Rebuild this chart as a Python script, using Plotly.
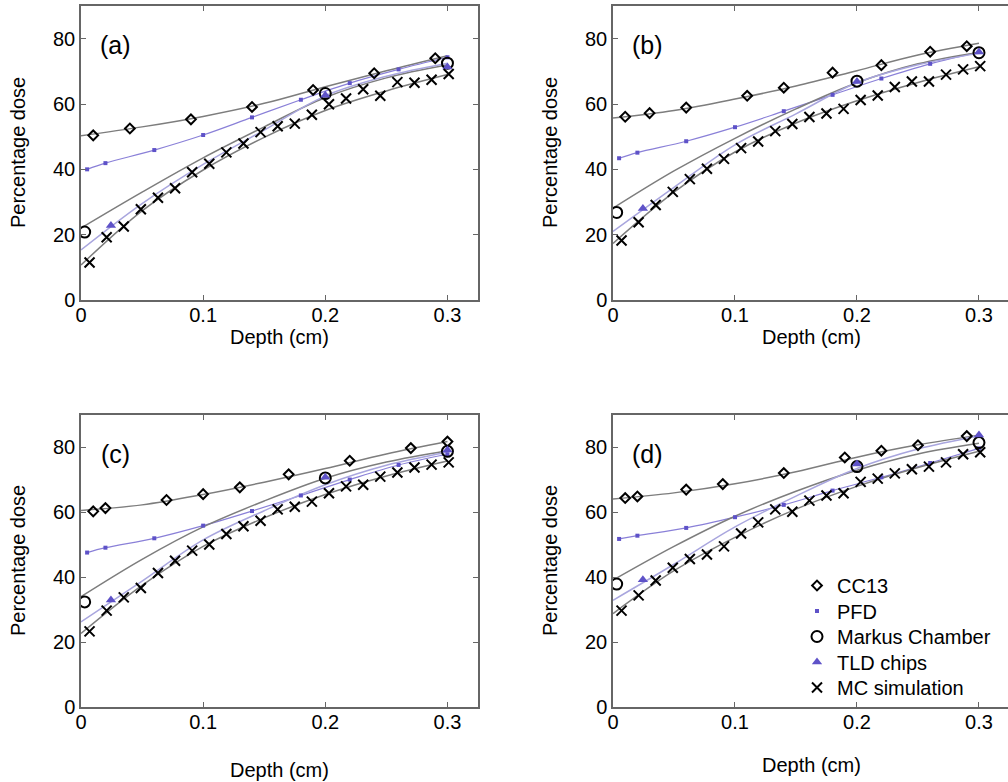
import plotly.graph_objects as go

# ---------------- data ----------------
panels = ["a", "b", "c", "d"]

cc13_x = {
    "a": [0.01, 0.04, 0.09, 0.14, 0.19, 0.24, 0.29],
    "b": [0.01, 0.03, 0.06, 0.11, 0.14, 0.18, 0.22, 0.26, 0.29],
    "c": [0.01, 0.02, 0.07, 0.10, 0.13, 0.17, 0.22, 0.27, 0.30],
    "d": [0.01, 0.02, 0.06, 0.09, 0.14, 0.19, 0.22, 0.25, 0.29],
}
cc13_y = {
    "a": [50.4, 52.5, 55.3, 59.1, 64.3, 69.4, 74.0],
    "b": [56.1, 57.2, 58.9, 62.5, 65.0, 69.6, 71.9, 76.0, 77.7],
    "c": [60.3, 61.3, 63.8, 65.6, 67.7, 71.7, 75.9, 79.8, 81.8],
    "d": [64.4, 64.9, 67.0, 68.7, 72.1, 76.9, 79.0, 80.7, 83.5],
}

pfd_x = [0.005, 0.02, 0.06, 0.10, 0.14, 0.18, 0.22, 0.26, 0.30]
pfd_y = {
    "a": [40.0, 41.9, 45.9, 50.5, 55.9, 61.3, 66.4, 70.6, 74.3],
    "b": [43.4, 45.1, 48.6, 52.9, 57.8, 62.8, 67.8, 72.3, 75.9],
    "c": [47.6, 49.1, 52.0, 55.9, 60.4, 65.2, 70.1, 74.6, 77.9],
    "d": [51.8, 52.8, 55.2, 58.5, 62.3, 66.7, 70.8, 75.2, 79.7],
}

markus_x = [0.003, 0.20, 0.30]
markus_y = {
    "a": [20.8, 63.2, 72.5],
    "b": [26.8, 67.0, 75.7],
    "c": [32.4, 70.6, 78.8],
    "d": [37.9, 74.1, 81.5],
}

tld_x = [0.0245, 0.20, 0.30]
tld_y = {
    "a": [22.8, 62.7, 71.3],
    "b": [28.0, 66.9, 75.9],
    "c": [33.0, 70.8, 79.2],
    "d": [39.2, 74.9, 83.8],
}

mc_x = [0.007, 0.021, 0.035, 0.049, 0.063, 0.077, 0.091, 0.105, 0.119, 0.133, 0.147,
        0.161, 0.175, 0.189, 0.203, 0.217, 0.231, 0.245, 0.259, 0.273, 0.287, 0.301]
mc_y = {
    "a": [11.5, 19.2, 22.5, 27.8, 31.3, 34.2, 39.1, 41.7, 45.2, 47.9, 51.4,
          53.2, 54.0, 56.7, 59.9, 61.7, 64.5, 62.5, 66.7, 66.5, 67.4, 69.2],
    "b": [18.2, 23.8, 29.1, 33.1, 37.0, 40.2, 43.2, 46.5, 48.5, 51.7, 53.9,
          56.0, 57.1, 58.5, 61.2, 62.6, 65.2, 66.9, 66.9, 69.0, 70.6, 71.6],
    "c": [23.3, 29.7, 33.8, 36.7, 41.3, 45.1, 48.2, 50.1, 53.3, 55.7, 57.4,
          60.9, 61.7, 63.3, 65.9, 68.0, 68.5, 71.0, 72.3, 73.8, 74.7, 75.4],
    "d": [29.7, 34.4, 39.0, 42.9, 45.6, 47.0, 49.5, 53.5, 56.9, 60.9, 60.2,
          63.6, 65.2, 65.9, 69.4, 70.4, 72.0, 73.3, 74.1, 75.4, 77.9, 78.5],
}

# fitted curves
fit_x = [0.0, 0.05, 0.10, 0.15, 0.20, 0.25, 0.30]
cc13_fit = {
    "a": [50.3, 53.0, 56.2, 60.2, 65.3, 70.2, 74.8],
    "b": [55.7, 58.0, 61.5, 65.5, 70.2, 75.0, 78.6],
    "c": [60.6, 62.3, 65.5, 69.3, 73.5, 78.0, 81.8],
    "d": [64.1, 66.0, 68.8, 72.5, 77.0, 80.8, 83.8],
}
markus_fit = {
    "a": [22.0, 33.0, 43.5, 53.0, 62.0, 68.0, 72.0],
    "b": [28.1, 39.5, 49.5, 58.5, 66.5, 72.3, 75.8],
    "c": [34.0, 45.5, 55.5, 63.5, 70.5, 75.5, 79.0],
    "d": [39.1, 49.5, 58.8, 66.5, 73.0, 78.0, 81.3],
}
tld_fit = {
    "a": [15.3, 29.5, 41.5, 52.0, 62.5, 68.5, 72.5],
    "b": [21.0, 34.5, 47.5, 57.0, 66.5, 72.0, 75.5],
    "c": [26.2, 38.8, 51.5, 60.5, 68.5, 74.5, 78.5],
    "d": [32.9, 44.0, 55.5, 65.0, 73.5, 79.5, 83.5],
}
mc_fit = {
    "a": [10.7, 27.3, 39.8, 49.8, 58.0, 64.0, 69.0],
    "b": [17.3, 33.0, 45.3, 54.2, 61.0, 66.6, 71.4],
    "c": [22.7, 37.5, 49.5, 58.3, 65.5, 71.2, 75.8],
    "d": [28.8, 42.0, 52.3, 61.0, 68.0, 73.8, 78.8],
}

x_ticks = [0, 0.1, 0.2, 0.3]
x_tick_text = ["0", "0.1", "0.2", "0.3"]
y_ticks = [0, 20, 40, 60, 80]
y_tick_text = ["0", "20", "40", "60", "80"]
panel_labels = ["(a)", "(b)", "(c)", "(d)"]
series_names = ["CC13", "PFD", "Markus Chamber", "TLD chips", "MC simulation"]

# ---------------- layout geometry ----------------
W, H = 1008, 782
FONT = "Liberation Sans, Arial, sans-serif"
BLUE = "#5e52c8"
GRAY = "#7d7d7d"
LBLUE = "#a9a6de"
PLINE = "#8a80d8"

# pixel boxes: left, right, top, bottom
boxes = {
    "a": (81, 478, 6, 300),
    "b": (613, 1008, 6, 300),
    "c": (81, 478, 415, 707),
    "d": (613, 1008, 415, 707),
}
xmax = {"a": 0.325, "b": 0.3238, "c": 0.325, "d": 0.3238}
xlabel_dy = {"a": 37, "b": 37, "c": 63, "d": 58}

legend_ids = ["legend", "legend2", "legend3", "legend4", "legend5"]
legend_centers = [585, 610.5, 636, 661.5, 687]

fig = go.Figure()
layout = dict(
    width=W, height=H,
    margin=dict(l=0, r=0, t=0, b=0, autoexpand=False),
    paper_bgcolor="white", plot_bgcolor="white",
    font=dict(family=FONT, size=20, color="black"),
    showlegend=True,
)
for lid, cy in zip(legend_ids, legend_centers):
    layout[lid] = dict(x=797 / W, y=1 - (cy - 19) / H, xanchor="left", yanchor="top",
                       bgcolor="rgba(0,0,0,0)", borderwidth=0,
                       font=dict(family=FONT, size=20, color="black"),
                       itemwidth=30, tracegroupgap=0)
annotations = []

for i, p in enumerate(panels):
    l, r, t, b = boxes[p]
    xs = "" if i == 0 else str(i + 1)
    xa, ya = "x" + xs, "y" + xs
    right_cut = r >= W
    layout["xaxis" + xs] = dict(
        domain=[l / W, r / W], range=[0, xmax[p]], anchor=ya,
        tickvals=x_ticks, ticktext=x_tick_text, ticks="inside", ticklen=5,
        tickcolor="#666", showline=True, linecolor="#666", linewidth=1.5,
        mirror="ticks", showgrid=False, zeroline=False, ticklabelstandoff=-4,
        tickfont=dict(family=FONT, size=20),
    )
    layout["yaxis" + xs] = dict(
        domain=[1 - b / H, 1 - t / H], range=[0, 90], anchor=xa,
        tickvals=y_ticks, ticktext=y_tick_text, ticks="inside", ticklen=5,
        tickcolor="#666", showline=True, linecolor="#666", linewidth=1.5,
        mirror=False if right_cut else "ticks", showgrid=False, zeroline=False,
        tickfont=dict(family=FONT, size=20),
    )
    leg = (p == "d")
    # fit curves
    fig.add_trace(go.Scatter(x=fit_x, y=cc13_fit[p], mode="lines", line=dict(color=GRAY, width=1.5, shape="spline"),
                             xaxis=xa, yaxis=ya, showlegend=False, hoverinfo="skip"))
    fig.add_trace(go.Scatter(x=pfd_x, y=pfd_y[p], mode="lines", line=dict(color=PLINE, width=1.2, shape="spline"),
                             xaxis=xa, yaxis=ya, showlegend=False, hoverinfo="skip"))
    fig.add_trace(go.Scatter(x=fit_x, y=markus_fit[p], mode="lines", line=dict(color=GRAY, width=1.5, shape="spline"),
                             xaxis=xa, yaxis=ya, showlegend=False, hoverinfo="skip"))
    fig.add_trace(go.Scatter(x=fit_x, y=tld_fit[p], mode="lines", line=dict(color=LBLUE, width=1.5, shape="spline"),
                             xaxis=xa, yaxis=ya, showlegend=False, hoverinfo="skip"))
    fig.add_trace(go.Scatter(x=fit_x, y=mc_fit[p], mode="lines", line=dict(color=GRAY, width=1.5, shape="spline"),
                             xaxis=xa, yaxis=ya, showlegend=False, hoverinfo="skip"))
    # markers
    fig.add_trace(go.Scatter(x=cc13_x[p], y=cc13_y[p], mode="markers", name=series_names[0], legend=legend_ids[0],
                             marker=dict(symbol="diamond-open", size=7.5, color="black", line=dict(width=2)),
                             xaxis=xa, yaxis=ya, showlegend=leg))
    fig.add_trace(go.Scatter(x=pfd_x, y=pfd_y[p], mode="markers", name=series_names[1], legend=legend_ids[1],
                             marker=dict(symbol="square", size=4, color=BLUE, line=dict(width=0)),
                             xaxis=xa, yaxis=ya, showlegend=leg))
    fig.add_trace(go.Scatter(x=markus_x, y=markus_y[p], mode="markers", name=series_names[2], legend=legend_ids[2],
                             marker=dict(symbol="circle-open", size=11, color="black", line=dict(width=2)),
                             xaxis=xa, yaxis=ya, showlegend=leg))
    fig.add_trace(go.Scatter(x=tld_x, y=tld_y[p], mode="markers", name=series_names[3], legend=legend_ids[3],
                             marker=dict(symbol="triangle-up", size=9, color=BLUE, line=dict(width=0)),
                             xaxis=xa, yaxis=ya, showlegend=leg))
    fig.add_trace(go.Scatter(x=mc_x, y=mc_y[p], mode="markers", name=series_names[4], legend=legend_ids[4],
                             marker=dict(symbol="x-thin", size=10, color="black", line=dict(width=2, color="black")),
                             xaxis=xa, yaxis=ya, showlegend=leg))

    # panel label
    annotations.append(dict(text=panel_labels[i], x=(l + 34) / W, y=1 - (t + 39) / H, xref="paper", yref="paper",
                            xanchor="center", yanchor="middle", showarrow=False,
                            font=dict(family=FONT, size=25, color="black")))
    # axis titles
    annotations.append(dict(text="Percentage dose", x=(l - 63) / W, y=1 - ((t + b) / 2) / H, xref="paper", yref="paper",
                            xanchor="center", yanchor="middle", textangle=-90, showarrow=False,
                            font=dict(family=FONT, size=20, color="black")))
    xcenter = (l + 478 - 81 + l) / 2 if right_cut else (l + r) / 2
    annotations.append(dict(text="Depth (cm)", x=xcenter / W, y=1 - (b + xlabel_dy[p]) / H,
                            xref="paper", yref="paper",
                            xanchor="center", yanchor="middle", showarrow=False,
                            font=dict(family=FONT, size=20, color="black")))

layout["annotations"] = annotations
fig.update_layout(**layout)
fig.write_html("out.html", config={"displayModeBar": False},
               post_script="document.body.style.margin='0px';document.body.style.padding='0px';document.body.style.overflow='hidden';")
